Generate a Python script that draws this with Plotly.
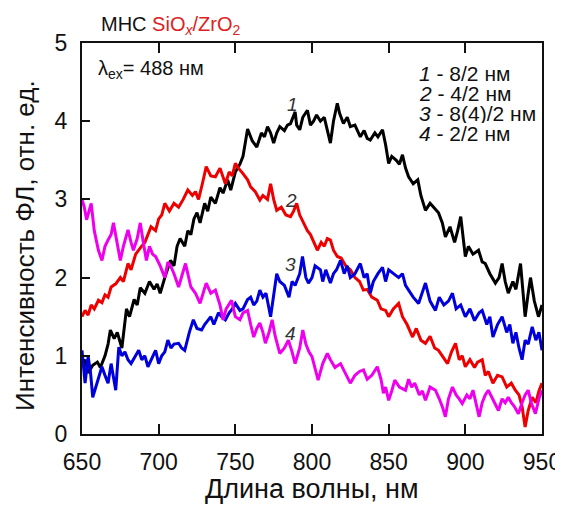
import plotly.graph_objects as go

# ---- data ----
wl_1 = [650, 652, 654, 657, 660, 662, 665, 667, 668.5, 671, 673, 676, 679, 681, 684, 686, 688, 691, 694, 697, 699,
        701, 704, 707.7, 710, 712, 714, 717, 719, 721, 723, 725, 727, 730, 732, 734, 737, 740, 742, 745, 747, 750,
        753, 755, 758, 761, 764, 767, 769, 771, 773, 775, 777, 779, 782, 784, 786, 789, 790, 792, 794, 797, 799,
        801, 803, 805.5, 808, 810, 812, 814, 816.5, 818, 820.5, 823, 825, 828, 831.5, 834, 836, 838, 841, 843,
        846, 848, 850, 852, 855, 857, 859, 861, 863, 866, 869, 871, 874, 877, 880, 882.5, 885, 887, 890, 893,
        895, 897, 900, 902, 905, 908.6, 911, 913, 916, 919.6, 922, 924, 926, 928, 931, 933, 936, 939, 941,
        942.5, 945, 947.7, 950]
int_1 = [0.86, 0.95, 0.78, 0.88, 0.92, 0.85, 1.0, 1.15, 1.33, 1.22, 1.3, 1.1, 1.6, 1.5, 1.72, 1.65, 1.87, 1.8, 1.95, 1.85, 1.92,
         1.8, 2.0, 2.22, 2.15, 2.4, 2.5, 2.4, 2.6, 2.55, 2.75, 2.83, 2.7, 2.95, 2.85, 3.03, 2.95, 3.15, 3.08, 3.25, 3.12, 3.35,
         3.45, 3.55, 3.9, 3.75, 3.67, 3.85, 3.8, 3.93, 3.85, 3.72, 3.85, 3.93, 3.88, 3.95, 3.97, 4.12, 3.95, 3.89, 4.05, 4.14, 3.95,
         4.0, 4.08, 4.0, 4.05, 3.9, 3.72, 4.0, 4.23, 4.1, 3.97, 4.05, 3.93, 3.95, 3.8, 3.88, 3.78, 3.76, 3.85, 3.8,
         3.89, 3.7, 3.46, 3.55, 3.5, 3.45, 3.57, 3.4, 3.29, 3.2, 3.25, 3.05, 2.86, 2.95, 2.88, 2.83, 2.7, 2.52, 2.65, 2.45,
         2.6, 2.78, 2.27, 2.4, 2.3, 2.35, 2.2, 2.18, 2.05, 1.93, 2.0, 2.18, 1.95, 1.8, 1.95, 1.85, 2.18, 1.5, 1.8,
         2.0, 1.7, 1.5, 1.65]

wl_2 = [650, 652, 654, 656, 658, 660.7, 663, 665, 667, 669, 672, 675, 677, 680, 682, 685, 688.8, 691, 693, 695, 698,
        700, 702, 704, 707, 710, 713, 716, 719, 722, 724, 726, 728.5, 731, 734, 737, 740, 743.5, 746, 748, 750,
        752, 755, 758, 760, 763, 766, 768, 771, 773, 775, 777, 780, 783, 786, 788, 790, 792, 794.5, 797, 799,
        801, 803.5, 806, 808, 810, 812, 814, 816.5, 819, 822, 825, 828, 831, 833.5, 836, 839, 842.6, 845, 848,
        850, 853, 856.5, 859, 862, 865.6, 868, 871, 874, 877, 880, 882.5, 885, 888.4, 891, 893.6, 896, 898, 900,
        903, 906, 908, 911, 913, 915, 918, 921, 924, 927, 930, 932.6, 935, 937, 939, 941, 943.6, 946, 948, 950]
int_2 = [1.5, 1.58, 1.52, 1.65, 1.6, 1.71, 1.68, 1.78, 1.75, 1.88, 1.92, 2.0, 1.95, 2.18, 2.1, 2.3, 2.4, 2.45, 2.55, 2.65, 2.6,
         2.75, 2.8, 2.95, 2.85, 2.95, 2.9, 3.0, 3.12, 3.05, 3.1, 3.0, 3.2, 3.42, 3.3, 3.29, 3.4, 3.2, 3.35, 3.3, 3.46,
         3.4, 3.33, 3.25, 3.16, 3.1, 2.99, 3.05, 3.0, 3.2, 3.0, 2.86, 2.9, 2.8, 2.78, 2.85, 2.95, 2.8, 2.7, 2.6, 2.55,
         2.45, 2.35, 2.45, 2.4, 2.5, 2.48, 2.35, 2.27, 2.25, 2.15, 2.1, 2.0, 1.95, 1.84, 1.85, 1.75, 1.71, 1.6, 1.58,
         1.5, 1.6, 1.67, 1.5, 1.4, 1.24, 1.35, 1.2, 1.16, 1.25, 1.1, 1.07, 1.0, 0.9, 1.05, 1.16, 0.95, 1.0, 0.86,
         0.95, 0.85, 0.92, 0.95, 0.75, 0.8, 0.65, 0.75, 0.73, 0.6, 0.65, 0.56, 0.5, 0.35, 0.09, 0.3, 0.47, 0.4, 0.55, 0.65]

wl_3 = [650, 652, 654, 655.5, 657, 659, 661, 663, 665, 667, 669, 672, 674, 676, 678, 680, 682, 685, 687, 689, 691,
        693, 695, 698, 700, 702, 704, 706, 708, 710, 713, 715, 717, 720, 722.6, 725, 728, 730, 732, 734, 736,
        739, 741, 743.5, 746, 748, 750, 753, 755, 758, 760, 762, 764, 766, 768, 770, 773, 775, 777, 779, 782,
        785, 787, 789, 792, 793.8, 796, 797.7, 800, 802, 805.5, 807, 809, 812, 814, 816, 818.6, 821, 823, 825,
        828, 831.5, 834, 836, 838, 840, 843, 846, 848, 850, 853, 856.5, 859, 861, 863, 866, 869.5, 872, 874,
        877, 880.5, 883, 886, 889, 891.6, 894, 897, 900, 903, 906, 909, 911, 914, 916, 918, 921, 924, 927,
        929, 931, 933, 935, 937, 939, 941, 943.6, 946, 948, 950]
int_3 = [1.07, 0.65, 0.99, 0.8, 0.47, 0.6, 0.7, 0.86, 0.75, 0.65, 0.9, 0.56, 1.11, 1.0, 1.05, 0.95, 0.9, 1.0, 1.07, 0.95, 1.0,
         0.86, 0.95, 1.07, 0.9, 1.0, 1.05, 1.2, 1.1, 1.15, 1.16, 1.1, 1.07, 1.3, 1.46, 1.35, 1.33, 1.4, 1.45, 1.5, 1.4,
         1.55, 1.5, 1.46, 1.55, 1.6, 1.67, 1.58, 1.6, 1.72, 1.75, 1.65, 1.7, 1.84, 1.75, 1.8, 1.5, 1.8, 2.05, 1.95, 1.9,
         1.75, 1.95, 1.9, 2.05, 2.27, 2.0, 1.93, 2.0, 2.15, 2.1, 1.95, 2.1, 1.93, 2.05, 2.1, 2.22, 2.05, 2.15, 2.0,
         2.05, 2.18, 2.0, 2.05, 1.8, 1.95, 2.05, 2.13, 1.95, 2.1, 2.05, 2.0, 2.05, 1.9, 1.84, 1.75, 1.67, 1.8, 1.93,
         1.7, 1.58, 1.75, 1.65, 1.7, 1.8, 1.6, 1.65, 1.5, 1.6, 1.45, 1.55, 1.58, 1.4, 1.5, 1.24, 1.4, 1.5, 1.3,
         1.4, 1.16, 1.3, 1.1, 0.95, 1.2, 1.15, 1.37, 1.2, 1.3, 1.07]

wl_4 = [650, 651.5, 653, 655, 656, 658, 660.7, 663, 665, 667, 669, 670.5, 673, 675, 677, 680, 682, 683.5, 686, 688, 690,
        692, 694, 696, 698, 701, 704, 706, 708, 710, 713, 715, 717.5, 719, 721, 724, 727, 729, 731, 734, 737,
        740, 742, 744, 747.5, 750, 753, 755, 758, 760, 762, 764, 766, 768, 769.6, 772, 774, 776, 779, 782, 784.6,
        787, 789, 792, 794, 796, 798, 800, 802, 804, 807, 810, 812, 815, 818.6, 821, 823, 825, 828, 831, 833.6,
        836, 839, 842.6, 845, 846.6, 848, 850, 852, 854, 857, 861, 863, 865, 867, 870, 872, 874, 877, 880.5, 883,
        885, 887, 889, 891.6, 894, 896, 898, 901, 903, 905, 907, 909, 911, 913, 915, 918, 921.6, 924, 926, 928,
        930, 932, 934.6, 937, 939, 941, 943, 945.7, 948, 950]
int_4 = [3.0, 2.9, 2.74, 2.9, 2.95, 2.6, 2.35, 2.22, 2.4, 2.48, 2.55, 2.7, 2.45, 2.22, 2.4, 2.61, 2.45, 2.35, 2.5, 2.7, 2.45,
         2.22, 2.4, 2.3, 2.27, 2.15, 2.0, 2.2, 2.14, 2.05, 1.88, 2.0, 2.18, 2.05, 1.88, 1.8, 1.67, 1.8, 1.93, 1.8, 1.84,
         1.65, 1.46, 1.6, 1.71, 1.5, 1.46, 1.55, 1.58, 1.4, 1.24, 1.35, 1.42, 1.3, 1.16, 1.3, 1.46, 1.25, 1.03, 1.1, 1.2,
         1.05, 0.9, 1.1, 1.33, 1.15, 1.05, 0.99, 0.85, 0.69, 0.9, 1.03, 0.95, 0.85, 0.9, 0.8, 0.72, 0.65, 0.75, 0.8, 0.82,
         0.7, 0.75, 0.86, 0.7, 0.52, 0.6, 0.43, 0.55, 0.69, 0.6, 0.56, 0.7, 0.6, 0.65, 0.5, 0.55, 0.43, 0.6, 0.56, 0.45,
         0.35, 0.22, 0.45, 0.6, 0.5, 0.45, 0.39, 0.5, 0.45, 0.56, 0.4, 0.22, 0.4, 0.5, 0.56, 0.45, 0.3, 0.45, 0.4, 0.47,
         0.4, 0.35, 0.26, 0.4, 0.5, 0.56, 0.4, 0.26, 0.45, 0.56]

series_colors = ["#000000", "#ee0000", "#0000dd", "#ee00ee"]
curve_tags = ["1", "2", "3", "4"]
curve_tag_x = [787, 786, 786, 786]
curve_tag_y = [4.22, 2.98, 2.17, 1.28]
legend_lines = ["8/2 нм", "4/2 нм", "8(4)/2 нм", "2/2 нм"]

x_ticks = [650, 700, 750, 800, 850, 900, 950]
y_ticks = [0, 1, 2, 3, 4, 5]
x_title = "Длина волны, нм"
y_title = "Интенсивность ФЛ, отн. ед."

FONT = "Liberation Sans, Arial, sans-serif"
INK = "#111111"

fig = go.Figure()
for wl, val, col in zip([wl_1, wl_2, wl_3, wl_4], [int_1, int_2, int_3, int_4], series_colors):
    fig.add_trace(go.Scatter(x=wl, y=val, mode="lines", line=dict(color=col, width=3),
                             showlegend=False, hoverinfo="skip"))

# curve numbers
for tag, tx, ty in zip(curve_tags, curve_tag_x, curve_tag_y):
    fig.add_annotation(x=tx, y=ty, text="<i>%s</i>" % tag, showarrow=False, xref="x", yref="y",
                       font=dict(family=FONT, size=19, color="#333333"))

# page-pixel positions (page has an 8px body margin; compensate below)
OFF = 8
for i, (tag, line) in enumerate(zip(curve_tags, legend_lines)):
    fig.add_annotation(x=417, y=73 + i * 20, xref="paper", yref="paper", text="<i>%s</i> - %s" % (tag, line),
                       showarrow=False, xanchor="left", yanchor="middle", height=20, valign="middle",
                       font=dict(family=FONT, size=21, color=INK))

fig.add_annotation(x=96, y=69, xref="paper", yref="paper", text="λ<sub>ex</sub>= 488 нм",
                   showarrow=False, xanchor="left", yanchor="middle",
                   font=dict(family=FONT, size=20, color=INK))

fig.add_annotation(x=99, y=25, xref="paper", yref="paper",
                   text="МНС <span style='color:#dd2222'>SiO<sub><i>x</i></sub>/ZrO<sub>2</sub></span>",
                   showarrow=False, xanchor="left", yanchor="middle",
                   font=dict(family=FONT, size=20, color=INK))

fig.add_annotation(x=312, y=489, xref="paper", yref="paper", text=x_title, showarrow=False,
                   xanchor="center", yanchor="middle", font=dict(family=FONT, size=27, color=INK))
fig.add_annotation(x=25, y=246, xref="paper", yref="paper", text=y_title, showarrow=False, textangle=-90,
                   xanchor="center", yanchor="middle", font=dict(family=FONT, size=26, color=INK))

W, H = 555, 498
# plot area in page pixels: x 82..542, y 43..434
L, T = 82 - OFF, 43 - OFF
R = W - (542 - OFF)
B = H - (434 - OFF)

for ann in fig.layout.annotations:
    if ann.xref == "paper":
        ann.x = (ann.x - OFF - L) / (W - L - R)
        ann.y = 1 - (ann.y - OFF - T) / (H - T - B)

fig.update_layout(
    width=W, height=H,
    margin=dict(l=L, r=R, t=T, b=B, pad=0),
    paper_bgcolor="white", plot_bgcolor="white",
    font=dict(family=FONT, color=INK),
    xaxis=dict(range=[650, 950], tickvals=x_ticks, ticks="inside", ticklen=10, tickwidth=1.5,
               tickcolor=INK, showline=True, linecolor=INK, linewidth=2, mirror="ticks",
               showgrid=False, zeroline=False, tickfont=dict(size=23, family=FONT, color=INK),
               ticklabelstandoff=6, automargin=False),
    yaxis=dict(range=[0, 5], tickvals=y_ticks, ticks="inside", ticklen=8, tickwidth=1.5,
               tickcolor=INK, showline=True, linecolor=INK, linewidth=2, mirror=True,
               showgrid=False, zeroline=False, tickfont=dict(size=23, family=FONT, color=INK),
               ticklabelstandoff=8, automargin=False),
)

fig.write_html("out.html")
